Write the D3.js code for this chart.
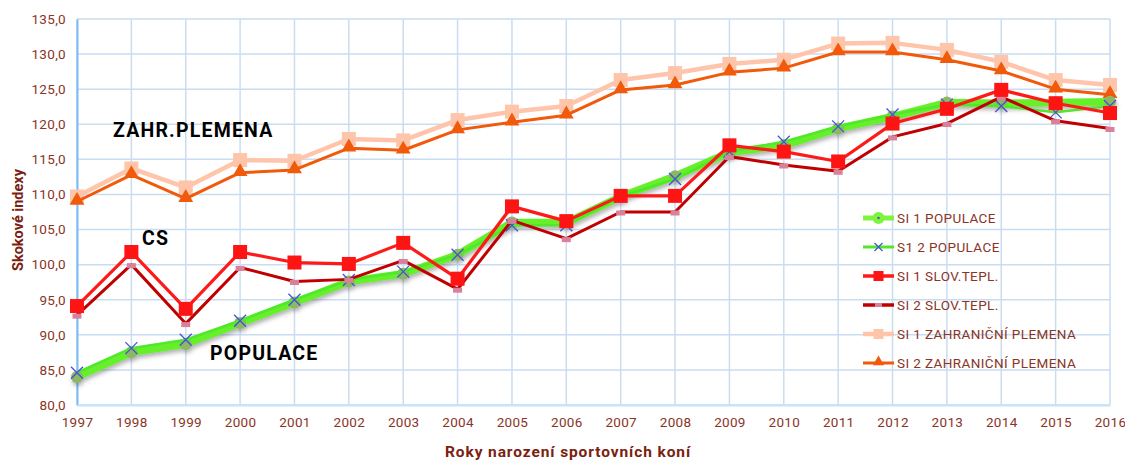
<!DOCTYPE html>
<html>
<head>
<meta charset="utf-8">
<script src="https://cdn.jsdelivr.net/npm/d3@7/dist/d3.min.js"></script>
<style>
  html, body { margin: 0; padding: 0; background: #fff; }
  svg { display: block; }
  text { font-family: Roboto, "DejaVu Sans", sans-serif; }
</style>
</head>
<body>
<svg id="chart" width="1125" height="462"></svg>
<script>
// Birth years of sport horses
const years = [1997, 1998, 1999, 2000, 2001, 2002, 2003, 2004, 2005, 2006,
               2007, 2008, 2009, 2010, 2011, 2012, 2013, 2014, 2015, 2016];

// Jumping indexes per group
const si1Populace = [84.0, 87.5, 88.7, 91.7, 94.6, 97.6, 98.7, 101.4, 106.0, 106.0,
                     109.7, 112.6, 116.0, 117.0, 119.4, 121.1, 123.1, 123.0, 123.1, 123.2];
const si2Populace = [84.6, 88.1, 89.3, 92.0, 95.0, 97.8, 99.0, 101.4, 105.6, 105.6,
                     109.7, 112.2, 116.1, 117.5, 119.7, 121.4, 122.8, 122.6, 121.7, 122.6];
const si1SlovTepl = [94.1, 101.8, 93.7, 101.8, 100.3, 100.1, 103.1, 98.0, 108.3, 106.2,
                     109.8, 109.8, 117.0, 116.1, 114.7, 120.1, 122.2, 124.9, 123.0, 121.6];
const si2SlovTepl = [92.8, 100.0, 91.6, 99.6, 97.6, 97.9, 100.6, 96.5, 106.3, 103.7,
                     107.5, 107.5, 115.4, 114.2, 113.3, 118.2, 120.1, 123.9, 120.5, 119.4];
const si1Zahr = [109.7, 113.7, 111.0, 114.9, 114.8, 117.9, 117.7, 120.6, 121.8, 122.6,
                 126.3, 127.3, 128.6, 129.2, 131.5, 131.6, 130.6, 128.9, 126.3, 125.6];
const si2Zahr = [109.0, 112.8, 109.4, 113.1, 113.5, 116.6, 116.3, 119.2, 120.3, 121.3,
                 124.9, 125.6, 127.4, 128.0, 130.3, 130.3, 129.2, 127.6, 125.0, 124.2];

const yTicks = [80, 85, 90, 95, 100, 105, 110, 115, 120, 125, 130, 135];

const legendLabels = ["SI 1 POPULACE", "S1 2 POPULACE", "SI 1 SLOV.TEPL.",
                      "SI 2 SLOV.TEPL.", "SI 1 ZAHRANIČNÍ PLEMENA", "SI 2 ZAHRANIČNÍ PLEMENA"];

const svg = d3.select("#chart");
const margin = { left: 77, right: 15, top: 19, bottom: 57 };
const W = 1125, H = 462;

const x = d3.scalePoint().domain(years).range([margin.left, W - margin.right]);
const y = d3.scaleLinear().domain([80, 135]).range([H - margin.bottom, margin.top]);

const defs = svg.append("defs");
const shadow = defs.append("filter").attr("id", "shadow")
  .attr("x", "-10%").attr("y", "-20%").attr("width", "120%").attr("height", "160%");
shadow.append("feDropShadow").attr("dx", 1).attr("dy", 3).attr("stdDeviation", 2)
  .attr("flood-color", "#555").attr("flood-opacity", 0.45);

const tickColor = "#8a3426";
const gridColor = "#c9ddf1";

// Grid
const grid = svg.append("g");
grid.selectAll("line.h").data(yTicks).join("line")
  .attr("x1", margin.left).attr("x2", W - margin.right)
  .attr("y1", d => y(d)).attr("y2", d => y(d))
  .attr("stroke", gridColor).attr("stroke-width", 1.5);
grid.selectAll("line.v").data(years).join("line")
  .attr("x1", d => x(d)).attr("x2", d => x(d))
  .attr("y1", y(135)).attr("y2", y(80))
  .attr("stroke", gridColor).attr("stroke-width", 1.5);

// Axes
const yAxis = svg.append("g").attr("transform", `translate(${margin.left},0)`)
  .call(d3.axisLeft(y).tickValues(yTicks).tickSize(0).tickPadding(11)
    .tickFormat(d => d3.format(".1f")(d).replace(".", ",")));
yAxis.select(".domain").attr("stroke", "#7cbcf4").attr("stroke-width", 2);
yAxis.selectAll("text").attr("fill", tickColor).attr("font-size", 13.5)
  .attr("letter-spacing", 0.3);

const xAxis = svg.append("g").attr("transform", `translate(0,${y(80)})`)
  .call(d3.axisBottom(x).tickSize(0).tickPadding(12));
xAxis.select(".domain").attr("stroke", "#c4e4f8").attr("stroke-width", 2);
xAxis.selectAll("text").attr("fill", tickColor).attr("font-size", 13.5)
  .attr("letter-spacing", 0.3);

// Axis titles
svg.append("text")
  .attr("transform", `translate(23,${(y(80) + y(135)) / 2 + 8}) rotate(-90)`)
  .attr("text-anchor", "middle").attr("font-weight", "bold").attr("font-size", 14.5)
  .attr("fill", "#7a2110").text("Skokové indexy");
svg.append("text")
  .attr("x", 568).attr("y", 457)
  .attr("text-anchor", "middle").attr("font-weight", "bold").attr("font-size", 15.5)
  .attr("letter-spacing", 0.9)
  .attr("fill", "#7a2110").text("Roky narození sportovních koní");

const line = d3.line().x((d, i) => x(years[i])).y(d => y(d));

function drawSeries(values, color, width, opts = {}) {
  const g = svg.append("g");
  if (opts.filter) g.attr("filter", opts.filter);
  g.append("path").datum(values).attr("d", line)
    .attr("fill", "none").attr("stroke", color).attr("stroke-width", width)
    .attr("stroke-linejoin", "round").attr("stroke-linecap", "round");
  return g;
}

// Foreign breeds
drawSeries(si1Zahr, "#ffc5aa", 4.5).selectAll("rect").data(si1Zahr).join("rect")
  .attr("x", (d, i) => x(years[i]) - 7).attr("y", d => y(d) - 7)
  .attr("width", 14).attr("height", 14).attr("fill", "#ffc5aa");

const tri = d3.symbol().type(d3.symbolTriangle).size(95);
drawSeries(si2Zahr, "#f05a0a", 3).selectAll("path.m").data(si2Zahr).join("path")
  .attr("class", "m")
  .attr("transform", (d, i) => `translate(${x(years[i])},${y(d) - 1})`)
  .attr("d", tri).attr("fill", "#f05a0a");

// Population
const popG = drawSeries(si1Populace, "#66f02a", 7.5, { filter: "url(#shadow)" });
popG.selectAll("circle").data(si1Populace).join("circle")
  .attr("cx", (d, i) => x(years[i])).attr("cy", d => y(d))
  .attr("r", 6).attr("fill", "#8cb865");

const pop2G = drawSeries(si2Populace, "#4fe82a", 2.5);
pop2G.selectAll("path.x").data(si2Populace).join("path")
  .attr("class", "x")
  .attr("d", (d, i) => {
    const cx = x(years[i]), cy = y(d), s = 6;
    return `M${cx - s},${cy - s}L${cx + s},${cy + s}M${cx - s},${cy + s}L${cx + s},${cy - s}`;
  })
  .attr("stroke", "#4a4fd6").attr("stroke-width", 1.3).attr("fill", "none");

// Slovak warmblood
drawSeries(si2SlovTepl, "#c00000", 3).selectAll("rect").data(si2SlovTepl).join("rect")
  .attr("x", (d, i) => x(years[i]) - 4.5).attr("y", d => y(d) - 1.5)
  .attr("width", 9).attr("height", 5).attr("fill", "#d9809b");

drawSeries(si1SlovTepl, "#ff1a1a", 3.2).selectAll("rect").data(si1SlovTepl).join("rect")
  .attr("x", (d, i) => x(years[i]) - 7).attr("y", d => y(d) - 7)
  .attr("width", 14).attr("height", 14).attr("fill", "#ff1414");

// Group labels
const labels = [
  { text: "ZAHR.PLEMENA", x: 113, y: 137 },
  { text: "CS", x: 142, y: 245 },
  { text: "POPULACE", x: 210, y: 360 }
];
svg.selectAll("text.grp").data(labels).join("text")
  .attr("class", "grp")
  .attr("x", d => d.x).attr("y", d => d.y)
  .attr("font-weight", "bold").attr("font-size", 19.5).attr("fill", "#000")
  .attr("letter-spacing", 1.2)
  .text(d => d.text);

// Legend
const legend = svg.append("g");
const ly0 = 218, lstep = 29, lx0 = 863, lx1 = 894;
legendLabels.forEach((lab, i) => {
  const cy = ly0 + i * lstep;
  const cx = (lx0 + lx1) / 2;
  const g = legend.append("g");
  if (i === 0) {
    g.append("line").attr("x1", lx0).attr("x2", lx1).attr("y1", cy).attr("y2", cy)
      .attr("stroke", "#7cf53a").attr("stroke-width", 5);
    g.append("circle").attr("cx", cx).attr("cy", cy).attr("r", 6).attr("fill", "#7cf53a");
    g.append("circle").attr("cx", cx).attr("cy", cy).attr("r", 1.3).attr("fill", "#5060c0");
  } else if (i === 1) {
    g.append("line").attr("x1", lx0).attr("x2", lx1).attr("y1", cy).attr("y2", cy)
      .attr("stroke", "#4fe82a").attr("stroke-width", 3);
    g.append("path").attr("d", `M${cx - 4},${cy - 4}L${cx + 4},${cy + 4}M${cx - 4},${cy + 4}L${cx + 4},${cy - 4}`)
      .attr("stroke", "#4a4fd6").attr("stroke-width", 1.2);
  } else if (i === 2) {
    g.append("line").attr("x1", lx0).attr("x2", lx1).attr("y1", cy).attr("y2", cy)
      .attr("stroke", "#ff1a1a").attr("stroke-width", 3.5);
    g.append("rect").attr("x", cx - 5).attr("y", cy - 5).attr("width", 10).attr("height", 10).attr("fill", "#ff1414");
  } else if (i === 3) {
    g.append("line").attr("x1", lx0).attr("x2", lx1).attr("y1", cy).attr("y2", cy)
      .attr("stroke", "#c00000").attr("stroke-width", 3.5);
    g.append("rect").attr("x", cx - 3.5).attr("y", cy - 2).attr("width", 7).attr("height", 4).attr("fill", "#d9809b");
  } else if (i === 4) {
    g.append("line").attr("x1", lx0).attr("x2", lx1).attr("y1", cy).attr("y2", cy)
      .attr("stroke", "#ffc5aa").attr("stroke-width", 4.5);
    g.append("rect").attr("x", cx - 5).attr("y", cy - 5).attr("width", 10).attr("height", 10).attr("fill", "#ffc5aa");
  } else {
    g.append("line").attr("x1", lx0).attr("x2", lx1).attr("y1", cy).attr("y2", cy)
      .attr("stroke", "#f05a0a").attr("stroke-width", 3);
    g.append("path").attr("d", d3.symbol().type(d3.symbolTriangle).size(55))
      .attr("transform", `translate(${cx},${cy - 1})`).attr("fill", "#f05a0a");
  }
  g.append("text").attr("x", lx1 + 3).attr("y", cy + 5)
    .attr("font-size", 13.5).attr("letter-spacing", 0.4)
    .attr("fill", tickColor).text(lab);
});
</script>
</body>
</html>
